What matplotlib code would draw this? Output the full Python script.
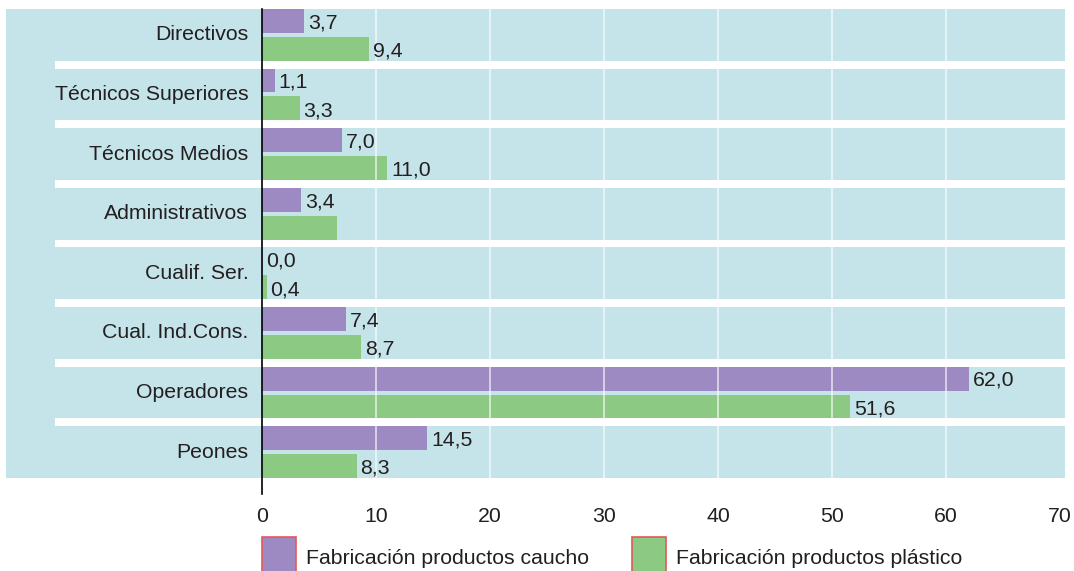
import matplotlib.pyplot as plt
from matplotlib.patches import Rectangle

plt.rcParams['font.family'] = ['Liberation Sans', 'DejaVu Sans']

# data
categorias = ["Directivos", "Técnicos Superiores", "Técnicos Medios", "Administrativos",
              "Cualif. Ser.", "Cual. Ind.Cons.", "Operadores", "Peones"]
caucho = [3.7, 1.1, 7.0, 3.4, 0.0, 7.4, 62.0, 14.5]
plastico = [9.4, 3.3, 11.0, 6.6, 0.4, 8.7, 51.6, 8.3]
etiq_caucho = ["3,7", "1,1", "7,0", "3,4", "0,0", "7,4", "62,0", "14,5"]
etiq_plastico = ["9,4", "3,3", "11,0", "", "0,4", "8,7", "51,6", "8,3"]
series = ["Fabricación productos caucho", "Fabricación productos plástico"]
xticks = [0, 10, 20, 30, 40, 50, 60, 70]

c_morado = "#9e8ac2"
c_verde = "#8cca84"
c_fondo = "#c5e4ea"
c_texto = "#231f20"

W, H = 1074, 571
fig = plt.figure(figsize=(W / 100, H / 100), dpi=100)
ax = fig.add_axes([6 / W, 1 - 478 / H, (1065 - 6) / W, (478 - 9) / H])
ax.set_facecolor(c_fondo)

px_per_unit = 114.0
xmin = -(262 - 6) / px_per_unit * 10
xmax = (1065 - 262) / px_per_unit * 10
ax.set_xlim(xmin, xmax)
ax.set_ylim(len(categorias) - 1 + 0.4333, -0.4333)

h = 0.4
pos = list(range(len(categorias)))
ax.barh([p - 0.0333 - h / 2 for p in pos], caucho, height=h, color=c_morado, zorder=2)
ax.barh([p + 0.0333 + h / 2 for p in pos], plastico, height=h, color=c_verde, zorder=2)

for p, v, t in zip(pos, caucho, etiq_caucho):
    ax.text(v + 0.35, p - 0.0333 - h / 2 + 0.03, t, va="center", ha="left", fontsize=15.3, color=c_texto, zorder=4)
for p, v, t in zip(pos, plastico, etiq_plastico):
    if t:
        ax.text(v + 0.35, p + 0.0333 + h / 2 + 0.04, t, va="center", ha="left", fontsize=15.3, color=c_texto, zorder=4)

# white separators between categories
sep_x0 = (55 - 6) / (1065 - 6)
for p in pos[:-1]:
    ax.axhspan(p + 0.4333, p + 0.5667, xmin=sep_x0, xmax=1, color="white", lw=0, zorder=1)

# vertical grid
for x in xticks[1:-1]:
    ax.axvline(x, color="white", lw=1.4, alpha=0.6, zorder=3)

# category labels
for p, c in zip(pos, categorias):
    ax.text(-1.2, p, c, ha="right", va="center", fontsize=15.3, color=c_texto)

# zero axis line
ax.plot([0, 0], [-0.4333, 7.7], color="black", lw=1.2, clip_on=False, zorder=5)

ax.set_xticks(xticks)
ax.set_xticklabels([str(x) for x in xticks], fontsize=15.3, color=c_texto)
ax.tick_params(axis="x", length=0, pad=21)
ax.set_yticks([])
for s in ax.spines.values():
    s.set_visible(False)

# legend
for x0, col, lab in [(262, c_morado, series[0]), (632, c_verde, series[1])]:
    fig.patches.append(Rectangle((x0 / W, 1 - 572 / H), 34 / W, 35 / H, transform=fig.transFigure,
                                 facecolor=col, edgecolor="#e05a5a", lw=1.2))
    fig.text((x0 + 44) / W, 1 - 558 / H, lab, ha="left", va="center", fontsize=15.3, color=c_texto)

fig.savefig("out.png", dpi=100)
